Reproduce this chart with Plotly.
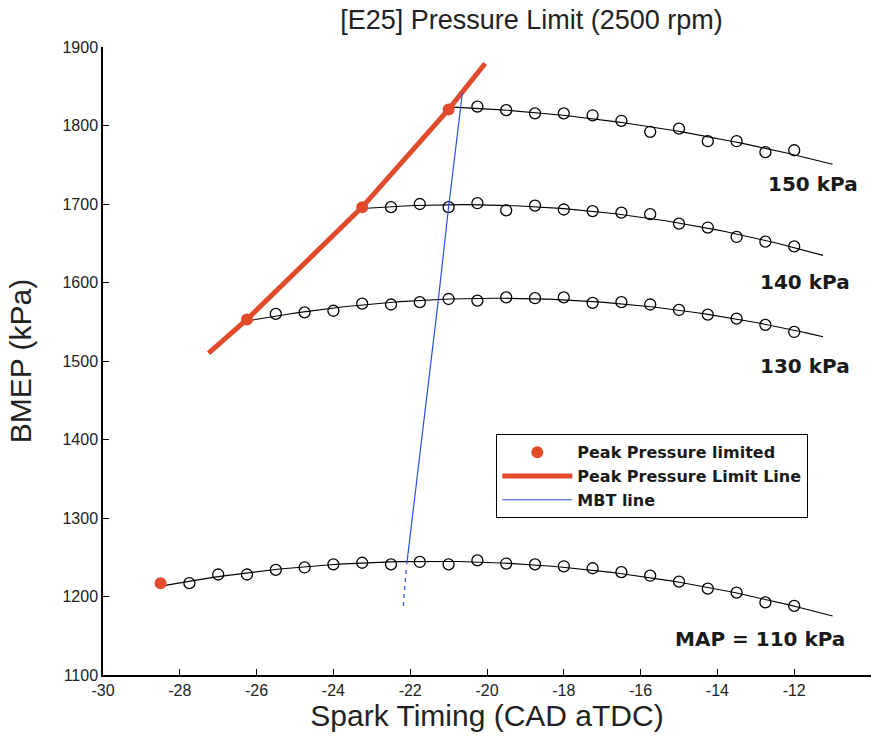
import numpy as np
import plotly.graph_objects as go

# ---- data ----
spark_110 = [-28.5, -27.75, -27.0, -26.25, -25.5, -24.75, -24.0, -23.25, -22.5, -21.75, -21.0, -20.25,
             -19.5, -18.75, -18.0, -17.25, -16.5, -15.75, -15.0, -14.25, -13.5, -12.75, -12.0]
bmep_110 = [1217, 1217, 1228, 1228, 1234, 1237, 1241, 1243, 1241, 1244, 1241, 1246,
            1242, 1241, 1238.5, 1236, 1231, 1226.5, 1219, 1210, 1205, 1192.5, 1188]

spark_130 = [-26.25, -25.5, -24.75, -24.0, -23.25, -22.5, -21.75, -21.0, -20.25, -19.5,
             -18.75, -18.0, -17.25, -16.5, -15.75, -15.0, -14.25, -13.5, -12.75, -12.0]
bmep_130 = [1553, 1560, 1562, 1564, 1573, 1572, 1575, 1579, 1577, 1581,
            1580, 1581, 1574, 1575, 1572, 1565, 1559, 1554, 1546, 1537]

spark_140 = [-23.25, -22.5, -21.75, -21.0, -20.25, -19.5, -18.75, -18.0, -17.25, -16.5,
             -15.75, -15.0, -14.25, -13.5, -12.75, -12.0]
bmep_140 = [1696, 1696, 1700, 1696, 1701, 1692, 1698, 1693, 1691, 1689,
            1687, 1675, 1670, 1658, 1652, 1646]

spark_150 = [-21.0, -20.25, -19.5, -18.75, -18.0, -17.25, -16.5, -15.75, -15.0, -14.25,
             -13.5, -12.75, -12.0]
bmep_150 = [1820.5, 1824, 1819.5, 1815.5, 1815.5, 1813, 1806, 1792, 1796, 1780,
            1780, 1766, 1768.5]

fit_end = {"110": -11.0, "130": -11.25, "140": -11.25, "150": -11.0}

limited_spark = [-28.5, -26.25, -23.25, -21.0]
limited_bmep = [1217, 1553, 1696, 1820.5]

limit_line_spark = [-27.25, -26.25, -23.25, -21.0, -20.05]
limit_line_bmep = [1510, 1553, 1696, 1820.5, 1879]

mbt_spark = [-22.09, -21.27, -21.0, -20.64]
mbt_bmep = [1241, 1577, 1696, 1842]
mbt_ext_spark = [-22.18, -22.1]
mbt_ext_bmep = [1188, 1238]

curve_labels = ["MAP = 110 kPa", "130 kPa", "140 kPa", "150 kPa"]
label_x = [-12.88, -11.72, -11.72, -11.50]
label_y = [1146, 1494, 1601, 1725]

xtick_vals = [-30, -28, -26, -24, -22, -20, -18, -16, -14, -12, -10]
xtick_text = ["-30", "-28", "-26", "-24", "-22", "-20", "-18", "-16", "-14", "-12", "-10"]

RED = "rgb(226,74,44)"
BLUE = "rgb(40,80,220)"

fig = go.Figure()

series = [("110", spark_110, bmep_110), ("130", spark_130, bmep_130),
          ("140", spark_140, bmep_140), ("150", spark_150, bmep_150)]
for key, xs, ys in series:
    coef = np.polyfit(xs, ys, 2)
    xf = np.linspace(xs[0], fit_end[key], 80)
    fig.add_trace(go.Scatter(x=xf, y=np.polyval(coef, xf), mode="lines",
                             line=dict(color="black", width=1.1), showlegend=False,
                             hoverinfo="skip"))
    fig.add_trace(go.Scatter(x=xs[1:], y=ys[1:], mode="markers",
                             marker=dict(symbol="circle-open", size=11, color="black",
                                         line=dict(width=1.3, color="black")),
                             showlegend=False))

fig.add_trace(go.Scatter(x=limit_line_spark, y=limit_line_bmep, mode="lines",
                         line=dict(color=RED, width=5), name="<b>Peak Pressure Limit Line</b>",
                         legendrank=2))
fig.add_trace(go.Scatter(x=mbt_spark, y=mbt_bmep, mode="lines",
                         line=dict(color=BLUE, width=1.2), name="<b>MBT line</b>", legendrank=3))
fig.add_trace(go.Scatter(x=mbt_ext_spark, y=mbt_ext_bmep, mode="lines",
                         line=dict(color=BLUE, width=1.2, dash="4px,4px"), showlegend=False))
fig.add_trace(go.Scatter(x=limited_spark, y=limited_bmep, mode="markers",
                         marker=dict(symbol="circle", size=12, color=RED),
                         name="<b>Peak Pressure limited</b>", legendrank=1))

for t, xv, yv in zip(curve_labels, label_x, label_y):
    fig.add_annotation(x=xv, y=yv, text="<b>" + t + "</b>", showarrow=False,
                       xanchor="center", yanchor="middle",
                       font=dict(family="DejaVu Sans", size=20, color="#1a1a1a"))

axis_common = dict(showline=True, linecolor="black", linewidth=1.5, mirror=False,
                   ticks="inside", ticklen=6, tickwidth=1.2, tickcolor="black",
                   showgrid=False, zeroline=False,
                   tickfont=dict(family="Liberation Sans", size=16, color="#222"))

fig.update_layout(
    width=880, height=736,
    margin=dict(l=103, r=9, t=47, b=61),
    paper_bgcolor="white", plot_bgcolor="white",
    title=dict(text="[E25] Pressure Limit (2500 rpm)", x=0.604, xanchor="center",
               y=0.973, yanchor="middle", yref="container",
               font=dict(family="Liberation Sans", size=27, color="#222")),
    xaxis=dict(range=[-30, -10], tickmode="array", tickvals=xtick_vals, ticktext=xtick_text,
               title=dict(text="Spark Timing (CAD aTDC)", standoff=4,
                          font=dict(family="Liberation Sans", size=30, color="#222")),
               **axis_common),
    yaxis=dict(range=[1100, 1900], dtick=100, tick0=1100,
               title=dict(text="BMEP (kPa)", standoff=22,
                          font=dict(family="Liberation Sans", size=30, color="#222")),
               **axis_common),
    legend=dict(x=0.5117, y=0.3838, xanchor="left", yanchor="top",
                bordercolor="black", borderwidth=1.3, bgcolor="white",
                itemwidth=70, traceorder="normal",
                font=dict(family="DejaVu Sans", size=16, color="#1a1a1a"),
                tracegroupgap=0),
    showlegend=True,
)

fig.write_html("out.html")
